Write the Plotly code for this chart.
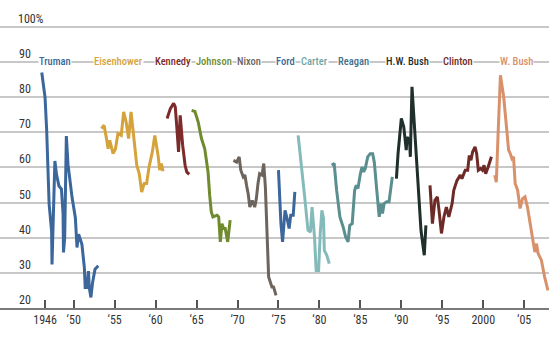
import plotly.graph_objects as go

# ---- data ----
presidents = ["Truman", "Eisenhower", "Kennedy", "Johnson", "Nixon", "Ford",
              "Carter", "Reagan", "H.W. Bush", "Clinton", "W. Bush"]

truman_x = [1946.1, 1946.5, 1946.7, 1946.9, 1947.0, 1947.3, 1947.35, 1947.7, 1947.9, 1948.2, 1948.5,
            1948.7, 1948.75, 1948.9, 1949.1, 1949.3, 1949.5, 1949.8, 1950.2, 1950.4, 1950.6,
            1951.0, 1951.3, 1951.4, 1951.6, 1951.8, 1951.9, 1952.1, 1952.3, 1952.6, 1953.0]
truman_y = [87.0, 79.9, 70.4, 58.0, 49.5, 41.9, 32.4, 61.8, 58.0, 54.7, 53.8,
            46.7, 35.8, 40.0, 68.9, 60.9, 56.6, 51.4, 45.7, 37.2, 41.0,
            38.1, 31.5, 25.8, 25.8, 30.5, 25.8, 23.0, 27.2, 31.0, 32.0]

eisen_x = [1953.4, 1953.7, 1954.0, 1954.2, 1954.4, 1954.8, 1955.1, 1955.4, 1955.8, 1956.1,
           1956.4, 1956.7, 1957.0, 1957.3, 1957.7, 1958.0, 1958.3, 1958.6, 1958.9, 1959.2,
           1959.6, 1959.9, 1960.3, 1960.5, 1960.7, 1960.9]
eisen_y = [71.0, 72.0, 68.2, 65.3, 67.7, 63.9, 65.3, 69.6, 69.1, 75.8,
           72.9, 68.2, 75.8, 69.1, 60.6, 58.2, 53.0, 55.4, 55.4, 60.1,
           64.4, 69.1, 63.4, 59.2, 61.1, 58.9]

kennedy_x = [1961.4, 1961.8, 1962.2, 1962.4, 1962.6, 1962.8, 1963.0, 1963.3, 1963.6, 1963.8, 1964.1]
kennedy_y = [73.9, 76.7, 78.2, 77.2, 71.0, 64.4, 74.8, 66.3, 60.6, 58.7, 58.0]

johnson_x = [1964.4, 1964.8, 1965.2, 1965.6, 1966.0, 1966.4, 1966.6, 1966.8, 1967.0, 1967.5,
             1967.7, 1967.9, 1968.1, 1968.3, 1968.5, 1968.8, 1969.1]
johnson_y = [76.2, 75.9, 72.9, 68.2, 65.3, 58.7, 52.1, 47.3, 45.9, 46.4,
             45.9, 38.8, 44.0, 42.6, 42.6, 38.8, 45.0]

nixon_x = [1969.5, 1969.9, 1970.2, 1970.4, 1970.7, 1970.9, 1971.1, 1971.3, 1971.5, 1971.8,
           1972.1, 1972.3, 1972.5, 1972.7, 1973.0, 1973.2, 1973.4, 1973.6, 1973.8, 1974.2,
           1974.4, 1974.7]
nixon_y = [62.0, 61.5, 63.0, 59.2, 57.3, 57.8, 54.9, 52.5, 48.7, 50.6,
           48.7, 51.1, 55.4, 58.2, 57.8, 61.1, 54.4, 39.3, 28.8, 26.0,
           26.0, 23.6]

ford_x = [1975.0, 1975.3, 1975.5, 1975.8, 1976.1, 1976.3, 1976.5, 1976.8, 1977.0]
ford_y = [59.2, 44.0, 38.8, 47.8, 45.0, 42.6, 46.4, 46.4, 53.0]

carter_x = [1977.4, 1977.8, 1978.2, 1978.6, 1978.9, 1979.1, 1979.4, 1979.6, 1979.9, 1980.1,
            1980.3, 1980.5, 1980.6, 1980.9, 1981.2]
carter_y = [69.1, 61.1, 51.6, 42.1, 41.6, 48.7, 40.2, 30.7, 30.7, 41.2,
            47.8, 45.4, 36.4, 35.0, 32.6]

reagan_x = [1981.5, 1981.8, 1982.1, 1982.5, 1982.9, 1983.2, 1983.5, 1983.7, 1984.0, 1984.3,
            1984.5, 1984.7, 1985.0, 1985.2, 1985.4, 1985.6, 1985.9, 1986.2, 1986.5, 1986.7,
            1987.0, 1987.3, 1987.5, 1987.7, 1987.9, 1988.2, 1988.5, 1988.7, 1988.9]
reagan_y = [60.6, 61.1, 53.5, 45.9, 43.0, 40.2, 38.8, 43.5, 44.0, 53.5,
            54.9, 54.0, 58.2, 60.1, 58.7, 59.7, 63.0, 63.9, 63.9, 61.5,
            53.5, 45.9, 49.7, 46.9, 49.7, 50.2, 50.2, 54.4, 57.3]

hwbush_x = [1989.4, 1989.6, 1990.0, 1990.3, 1990.6, 1990.7, 1991.0, 1991.1, 1991.3, 1991.6,
            1991.9, 1992.2, 1992.4, 1992.8, 1993.0]
hwbush_y = [56.8, 63.9, 73.9, 71.5, 64.9, 68.6, 67.7, 63.0, 82.9, 71.0,
            62.0, 49.7, 42.1, 35.0, 43.5]

clinton_x = [1993.5, 1993.8, 1994.1, 1994.4, 1994.6, 1994.9, 1995.2, 1995.5, 1995.8, 1996.2,
             1996.4, 1996.8, 1997.2, 1997.4, 1997.8, 1998.1, 1998.3, 1998.5, 1998.7, 1999.0,
             1999.2, 1999.4, 1999.7, 1999.9, 2000.1, 2000.3, 2000.6, 2001.0]
clinton_y = [54.9, 44.0, 50.6, 51.6, 47.8, 41.2, 45.9, 48.7, 45.9, 49.7,
             53.5, 56.3, 57.8, 56.8, 59.2, 59.2, 63.4, 62.0, 64.4, 65.8,
             63.9, 59.2, 59.7, 59.2, 60.6, 58.2, 60.1, 63.0]

wbush_x = [2001.4, 2001.6, 2001.8, 2002.1, 2002.5, 2002.8, 2003.1, 2003.3, 2003.5, 2003.7,
           2003.9, 2004.2, 2004.5, 2004.8, 2005.1, 2005.4, 2005.7, 2006.0, 2006.3, 2006.5,
           2006.7, 2007.1, 2007.5, 2007.9]
wbush_y = [57.8, 55.8, 68.6, 86.2, 80.0, 72.5, 64.9, 63.9, 62.5, 63.0,
           55.4, 53.5, 48.3, 51.1, 51.6, 48.7, 45.0, 40.2, 35.9, 38.3,
           35.5, 33.6, 28.8, 25.0]

series_x = [truman_x, eisen_x, kennedy_x, johnson_x, nixon_x, ford_x,
            carter_x, reagan_x, hwbush_x, clinton_x, wbush_x]
series_y = [truman_y, eisen_y, kennedy_y, johnson_y, nixon_y, ford_y,
            carter_y, reagan_y, hwbush_y, clinton_y, wbush_y]

label_x = [1947.7, 1955.5, 1962.1, 1967.15, 1971.4, 1975.8, 1979.45, 1984.1, 1990.8, 1996.9, 2004.1]
label_y = 90

tick_vals = [1946.5, 1950, 1955, 1960, 1965, 1970, 1975, 1980, 1985, 1990, 1995, 2000, 2005]
tick_text = ["1946", "‘50", "‘55", "‘60", "‘65", "‘70", "‘75", "‘80", "‘85", "‘90", "‘95", "2000", "‘05"]

y_ticks = [20, 30, 40, 50, 60, 70, 80, 90]

# ---- styles ----
colors = ["#3b679c", "#d6a23a", "#7b2b29", "#6f8b2d", "#6d645d", "#3b679c",
          "#85baba", "#5b8e8f", "#1f2f2c", "#6d2a26", "#d8916a"]
text_colors = ["#3b679c", "#d6a23a", "#7b2b29", "#6f8b2d", "#6d645d", "#3b679c",
               "#6fa6a8", "#44708a", "#1f2f2c", "#6d2a26", "#d8916a"]

FONT = "Roboto Condensed, Open Sans Condensed, Liberation Sans Narrow, Roboto, sans-serif"
LEG_SIZE = 10.5
TICK_SIZE = 12

fig = go.Figure()
for name, xs, ys, c in zip(presidents, series_x, series_y, colors):
    fig.add_trace(go.Scatter(x=xs, y=ys, mode="lines", name=name,
                             line=dict(color=c, width=3), hoverinfo="skip"))

annotations = []
for name, lx, c in zip(presidents, label_x, text_colors):
    annotations.append(dict(x=lx, y=label_y, xref="x", yref="y", text=name,
                            showarrow=False, xanchor="center", yanchor="middle",
                            bgcolor="white", borderpad=0,
                            font=dict(family=FONT, size=LEG_SIZE, color=c, weight=500)))
for v in y_ticks:
    annotations.append(dict(x=32 / 549, y=v, xref="paper", yref="y", text=str(v),
                            showarrow=False, xanchor="right", yanchor="bottom",
                            borderpad=0, yshift=0,
                            font=dict(family=FONT, size=TICK_SIZE, color="#333333")))
annotations.append(dict(x=17 / 549, y=100, xref="paper", yref="y", text="100%",
                        showarrow=False, xanchor="left", yanchor="bottom",
                        borderpad=0, yshift=0,
                        font=dict(family=FONT, size=TICK_SIZE, color="#333333")))

fig.update_layout(
    width=554, height=337,
    margin=dict(l=0, r=5, t=0, b=29),
    paper_bgcolor="white", plot_bgcolor="white",
    showlegend=False,
    annotations=annotations,
    xaxis=dict(range=[1941.0, 2008.03], tickvals=tick_vals, ticktext=tick_text,
               ticks="inside", ticklen=8, tickwidth=1.5, tickcolor="#555555",
               showgrid=False, zeroline=False, showline=True, linecolor="#7a7a7a",
               linewidth=2, tickfont=dict(family=FONT, size=TICK_SIZE, color="#333333")),
    yaxis=dict(range=[20, 107.6], tickvals=[30, 40, 50, 60, 70, 80, 90, 100],
               showticklabels=False, showgrid=True, gridcolor="#c8c8c8", gridwidth=1.5,
               zeroline=False, showline=False),
)

fig.write_html("out.html")
